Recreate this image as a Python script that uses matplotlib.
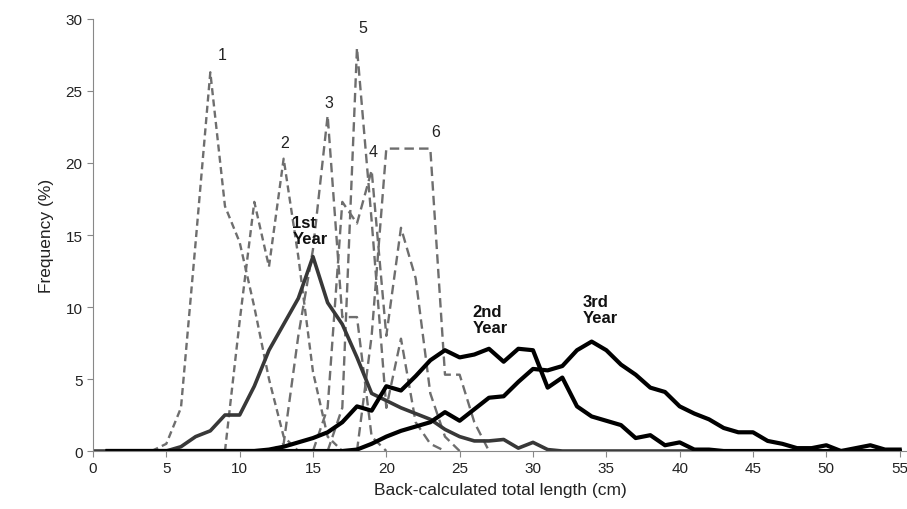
import matplotlib.pyplot as plt
import numpy as np

plt.rcParams['font.family'] = ['Liberation Sans', 'DejaVu Sans']

# dashed curves (one per group), x in cm, y in %
x1 = [4, 5, 6, 7, 8, 9, 10, 11, 12, 13, 14]
y1 = [0, 0.5, 3, 14.5, 26.3, 17, 14.5, 10, 5, 1, 0]
x2 = [9, 10, 11, 12, 13, 14, 15, 16, 17]
y2 = [0, 9, 17.3, 12.8, 20.3, 13.5, 5.5, 1, 0]
x3 = [12, 13, 14, 15, 16, 17, 18, 19, 20]
y3 = [0, 0.5, 8, 14, 23.3, 9.3, 9.3, 1, 0]
x4 = [15, 16, 17, 18, 19, 20, 21, 22, 23, 24, 25]
y4 = [0, 3, 17.3, 15.8, 19.5, 8, 15.5, 12, 4, 1, 0]
x5 = [16, 17, 18, 19, 20, 21, 22, 23, 24]
y5 = [0, 3, 28, 16, 3, 7.8, 2, 0.5, 0]
x6 = [18, 19, 20, 21, 22, 23, 24, 25, 26, 27]
y6 = [0, 8, 21, 21, 21, 21, 5.3, 5.3, 2, 0]
dashed = [(x1, y1), (x2, y2), (x3, y3), (x4, y4), (x5, y5), (x6, y6)]
dash_labels = ['1', '2', '3', '4', '5', '6']
dash_label_pos = [(8.8, 27.5), (13.1, 21.4), (16.1, 24.2), (19.1, 20.8), (18.4, 29.4), (23.4, 22.2)]

# back-calculated length at each age
yr_x = np.arange(0, 56)
year1 = [0, 0, 0, 0, 0, 0, 0.3, 1, 1.4, 2.5, 2.5, 4.5, 7, 8.8, 10.6, 13.5,
         10.3, 8.8, 6.5, 4, 3.5, 3, 2.6, 2.2, 1.5, 1, 0.7, 0.7, 0.8, 0.2,
         0.6, 0.1] + [0] * 24
year2 = [0] * 12 + [0.1, 0.3, 0.6, 0.9, 1.3, 2, 3.1, 2.8, 4.5, 4.2, 5.2,
                    6.3, 7, 6.5, 6.7, 7.1, 6.2, 7.1, 7, 4.4, 5.1, 3.1, 2.4,
                    2.1, 1.8, 0.9, 1.1, 0.4, 0.6, 0.1, 0.1] + [0] * 13
year3 = [0] * 18 + [0.1, 0.5, 1, 1.4, 1.7, 2, 2.7, 2.1, 2.9, 3.7, 3.8, 4.8,
                    5.7, 5.6, 5.9, 7, 7.6, 7, 6, 5.3, 4.4, 4.1, 3.1, 2.6,
                    2.2, 1.6, 1.3, 1.3, 0.7, 0.5, 0.2, 0.2, 0.4, 0, 0.2,
                    0.4, 0.1, 0.1]

fig = plt.figure(figsize=(9.07, 5.1), dpi=100)
ax = fig.add_axes([0.1025, 0.1137, 0.8975, 0.8471])

for i, (xs, ys) in enumerate(dashed):
    dash = (3, 1.8) if i < 2 else (4, 2.2)
    ax.plot(xs, ys, color='#6e6e6e', lw=1.7, dashes=dash)
    lx, ly = dash_label_pos[i]
    ax.text(lx, ly, dash_labels[i], ha='center', va='center', fontsize=11.5, color='#222222')

ax.plot(yr_x, year1, color='#383838', lw=2.6)
ax.plot(yr_x[1:], year2[1:], color='black', lw=3.0)
ax.plot(yr_x[1:], year3[1:], color='black', lw=3.0)

for tx, ty, s in [(13.6, 16.4, '1st\nYear'), (25.9, 10.2, '2nd\nYear'), (33.4, 10.9, '3rd\nYear')]:
    ax.text(tx, ty, s, fontsize=12, fontweight='bold', va='top', ha='left',
            linespacing=1.1, color='#111111')

ax.set_xlim(0, 55.5)
ax.set_ylim(0, 30)
ax.set_xticks(range(0, 56, 5))
ax.set_yticks(range(0, 31, 5))
for s in ['top', 'right']:
    ax.spines[s].set_visible(False)
for s in ['left', 'bottom']:
    ax.spines[s].set_color('#888888')
ax.tick_params(colors='#888888', labelcolor='#222222', labelsize=11, length=4)
ax.set_xlabel('Back-calculated total length (cm)', fontsize=12.5, color='#222222', labelpad=5)
ax.set_ylabel('Frequency (%)', fontsize=12.5, color='#222222', labelpad=8)

plt.savefig('out.png', dpi=100)
